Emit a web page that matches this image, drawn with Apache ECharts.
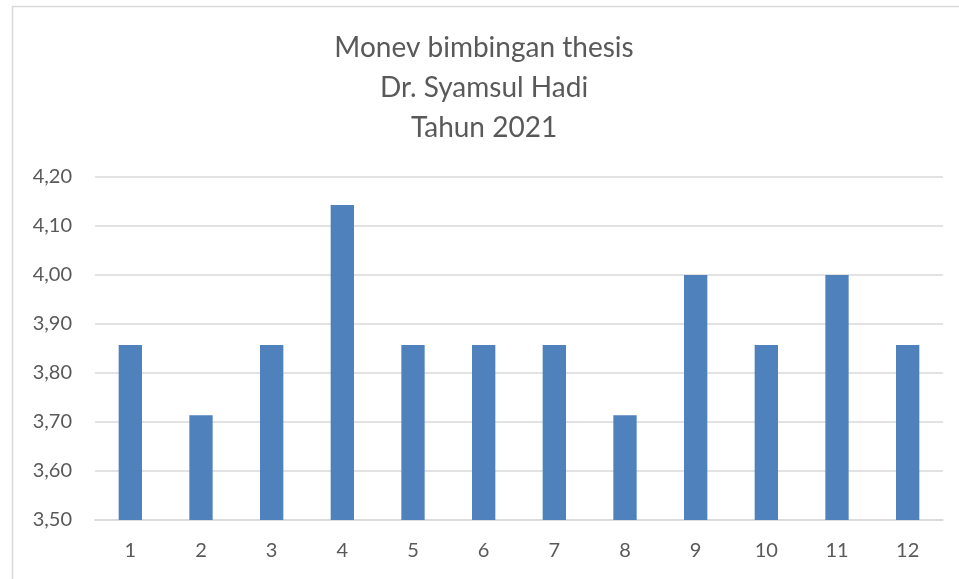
<!DOCTYPE html>
<html>
<head>
<meta charset="utf-8">
<script src="https://cdn.jsdelivr.net/npm/echarts@6/dist/echarts.min.js"></script>
<style>
  html, body { margin: 0; padding: 0; background: #fff; }
  #main { width: 959px; height: 579px; }
</style>
</head>
<body>
<div id="main"></div>
<script>
var categories = ['1', '2', '3', '4', '5', '6', '7', '8', '9', '10', '11', '12'];
var scores = [3.857, 3.714, 3.857, 4.143, 3.857, 3.857, 3.857, 3.714, 4.00, 3.857, 4.00, 3.857];
var titleLines = ['Monev bimbingan thesis', 'Dr. Syamsul Hadi', 'Tahun 2021'];

var chart = echarts.init(document.getElementById('main'));
var font = 'Lato, "Open Sans", sans-serif';

chart.setOption({
  animation: false,
  title: {
    text: titleLines.join('\n'),
    left: 479,
    textAlign: 'center',
    top: 23,
    textStyle: { fontFamily: font, fontSize: 28, fontWeight: 'normal', color: '#595959', lineHeight: 40 }
  },
  graphic: [{
    type: 'rect',
    shape: { x: 12.5, y: 6.5, width: 980, height: 600 },
    style: { fill: 'none', stroke: '#d9d9d9', lineWidth: 1.5 },
    silent: true
  }],
  grid: { left: 95, right: 16, top: 177, bottom: 59 },
  xAxis: {
    type: 'category',
    data: categories,
    axisLine: { lineStyle: { color: '#d9d9d9', width: 1.5 } },
    axisTick: { show: false },
    axisLabel: { color: '#595959', fontFamily: font, fontSize: 20, margin: 21 }
  },
  yAxis: {
    type: 'value',
    min: 3.5,
    max: 4.2,
    interval: 0.1,
    axisLine: { show: false },
    axisTick: { show: false },
    splitLine: { lineStyle: { color: '#d9d9d9', width: 1.5 } },
    axisLabel: {
      color: '#595959', fontFamily: font, fontSize: 20, margin: 23,
      formatter: function (v) { return v.toFixed(2).replace('.', ','); }
    }
  },
  series: [{
    type: 'bar',
    data: scores,
    barWidth: '33%',
    itemStyle: { color: '#4f81bd' }
  }]
});
</script>
</body>
</html>
